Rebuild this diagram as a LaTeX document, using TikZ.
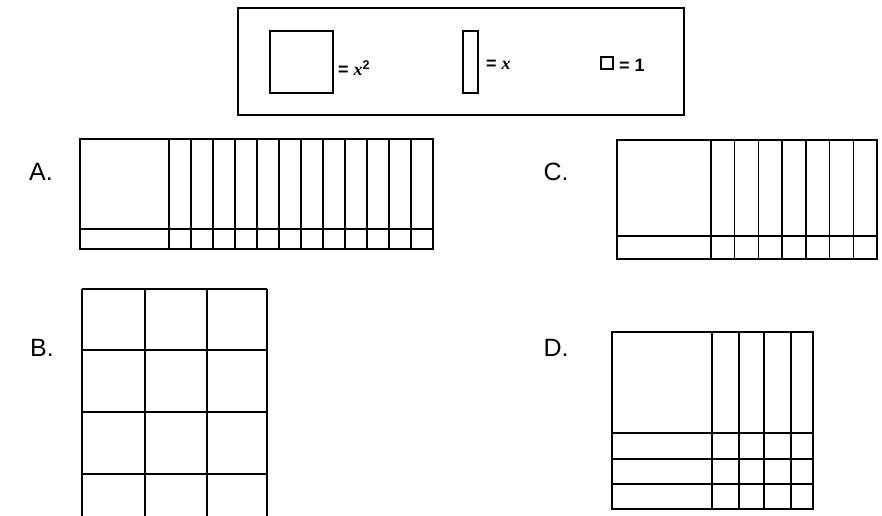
\documentclass[tikz,border=0pt]{standalone}
\usepackage{fontspec}
\setmainfont{Liberation Sans}
\newfontfamily\serifbi{Liberation Serif}
\begin{document}
\begin{tikzpicture}[x=1pt,y=-1pt,line width=1.4pt,
  lab/.style={font=\fontsize{25}{28}\selectfont,anchor=center},
  leg/.style={font=\fontsize{18}{20}\selectfont\bfseries,anchor=west}]
\useasboundingbox (0,0) rectangle (882,515);
% legend
\draw[line width=1.1pt] (238,8) rectangle (684,115);
\draw[line width=1.1pt] (270,31) rectangle (333,93);
\node[leg] (l1) at (334,68) {= {\serifbi\itshape x}\textsuperscript{2}};
\draw[line width=1.1pt] (463,31) rectangle (478,93);
\node[leg] (l2) at (482,65) {= {\serifbi\itshape x}};
\draw[line width=1.1pt] (601,57) rectangle (613,69);
\node[leg] (l3) at (615,65) {= 1};
% labels
\node[lab] (A) at (41,172) {A.};
\node[lab] (C) at (556,172) {C.};
\node[lab] (B) at (42,348) {B.};
\node[lab] (D) at (556,348) {D.};
% A
\draw (80,139) rectangle (433,249);
\draw (80,229) -- (433,229);
\foreach \i in {0,...,11} \draw ({169+\i*22},139) -- ({169+\i*22},249);
% C
\draw (617,140) rectangle (877,259);
\draw (617,236) -- (877,236);
\foreach \i in {0,...,6} \draw ({711+\i*23.7},140) -- ({711+\i*23.7},259);
% B
\begin{scope}
\clip (70,280) rectangle (280,515);
\draw (82,289) -- (267,289);
\foreach \y in {350,412,474} \draw (82,\y) -- (267,\y);
\foreach \x in {82,145,207,267} \draw (\x,289) -- (\x,530);
\end{scope}
% D
\draw (612,332) rectangle (813,509);
\foreach \y in {433,459,484} \draw (612,\y) -- (813,\y);
\foreach \x in {712,739,764,791} \draw (\x,332) -- (\x,509);
\end{tikzpicture}
\end{document}
